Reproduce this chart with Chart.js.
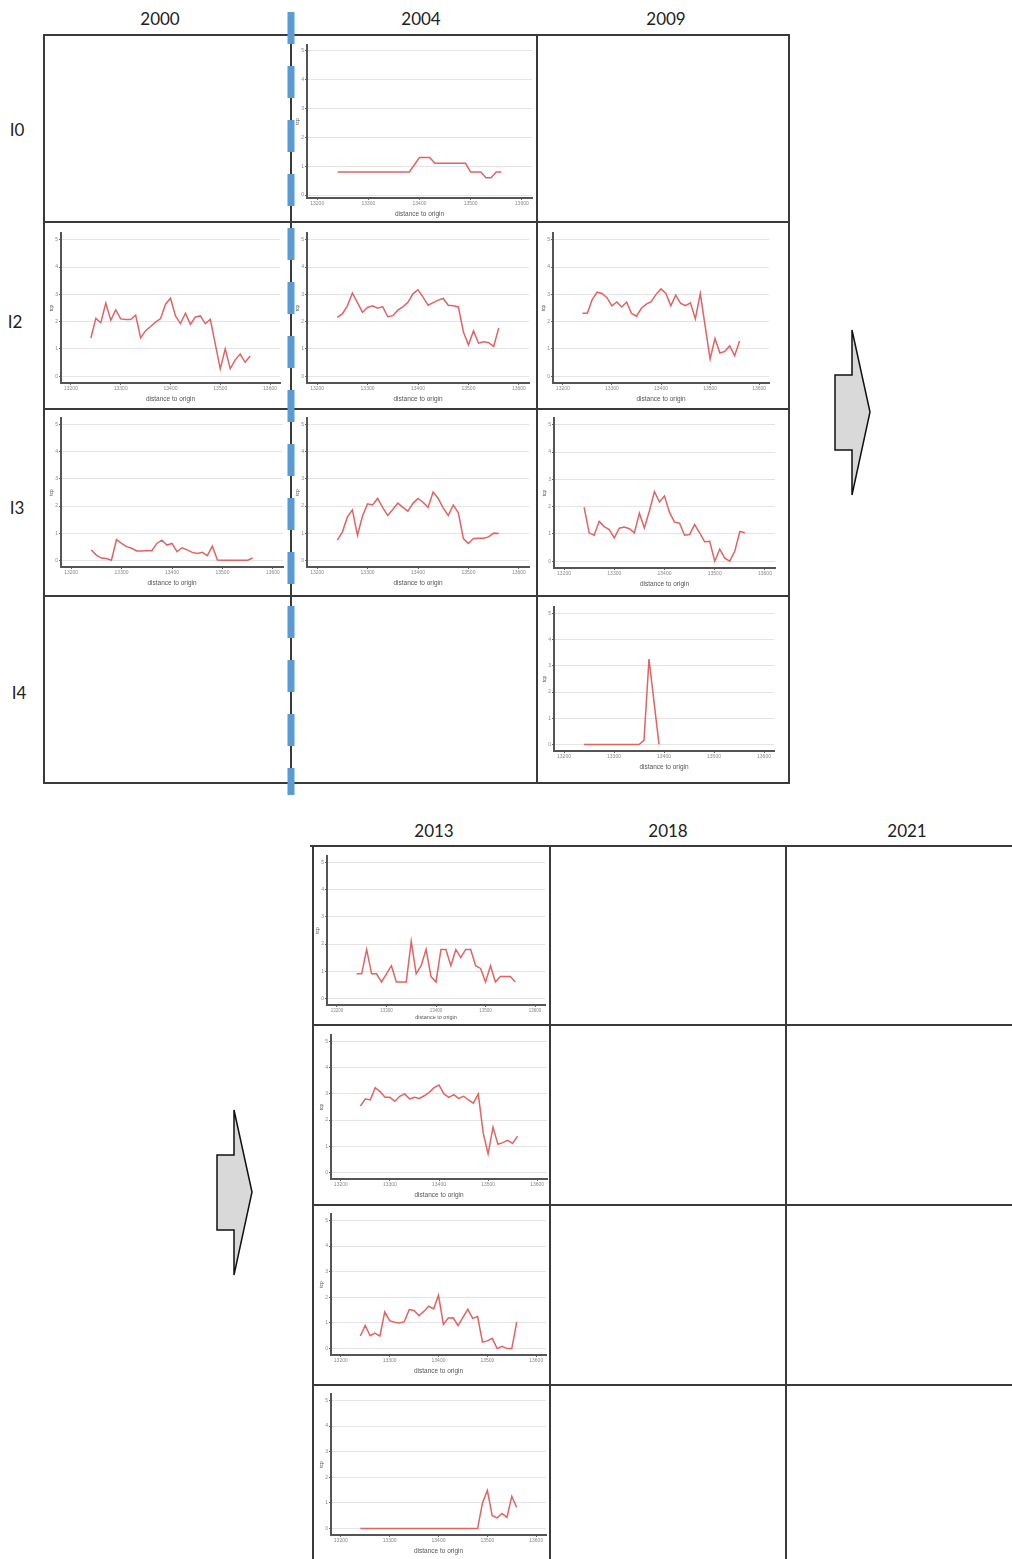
<!DOCTYPE html>
<html>
<head>
<meta charset="utf-8">
<script src="https://cdn.jsdelivr.net/npm/chart.js@4.4.1/dist/chart.umd.min.js"></script>
<style>
  html, body { margin: 0; padding: 0; background: #fff; }
  #page { position: relative; width: 1012px; height: 1559px; overflow: hidden; background: #fff;
          font-family: Lato, "Open Sans", "Liberation Sans", sans-serif; }
  .lbl { position: absolute; font-size: 17px; color: #222; transform: translate(-50%, -50%); white-space: nowrap; }
  canvas.mini { position: absolute; filter: blur(0.35px); }
  svg.frame { position: absolute; left: 0; top: 0; pointer-events: none; }
</style>
</head>
<body>
<div id="page"></div>
<script>
// ---- axis values shared by every small panel ----
const distance = [13240, 13250, 13260, 13270, 13280, 13290, 13300, 13310, 13320, 13330, 13340,
                  13350, 13360, 13370, 13380, 13390, 13400, 13410, 13420, 13430, 13440, 13450,
                  13460, 13470, 13480, 13490, 13500, 13510, 13520, 13530, 13540, 13550, 13560];
const xTicks = [13200, 13300, 13400, 13500, 13600];
const yTicks = [0, 1, 2, 3, 4, 5];

// ---- table headings ----
const yearsTop = ['2000', '2004', '2009'];
const yearsBottom = ['2013', '2018', '2021'];
const rowNames = ['I0', 'I2', 'I3', 'I4'];

// ---- series (one per filled cell), aligned with `distance` ----
const I0_2004 = [0.8, 0.8, 0.8, 0.8, 0.8, 0.8, 0.8, 0.8, 0.8, 0.8, 0.8, 0.8, 0.8, 0.8, 0.8, null,
                 1.3, 1.3, 1.3, 1.1, 1.1, 1.1, 1.1, 1.1, 1.1, 1.1, 0.8, 0.8, 0.8, 0.6, 0.6, 0.8, 0.8];
const I2_2000 = [1.40, 2.12, 1.96, 2.68, 2.05, 2.43, 2.10, 2.08, 2.08, 2.24, 1.40, 1.67, 1.82, 1.98, 2.11,
                 2.64, 2.86, 2.21, 1.93, 2.31, 1.90, 2.17, 2.21, 1.93, 2.08, null, 0.27, 1.00, 0.27, 0.60,
                 0.81, 0.51, 0.74];
const I2_2004 = [2.16, 2.28, 2.58, 3.05, 2.70, 2.34, 2.52, 2.58, 2.49, 2.55, 2.18, 2.22, 2.42, 2.54, 2.71,
                 3.02, 3.17, 2.90, 2.60, 2.70, 2.79, 2.85, 2.60, 2.58, 2.54, 1.62, 1.15, 1.66, 1.21, 1.26,
                 1.23, 1.09, 1.77];
const I2_2009 = [2.31, 2.31, 2.82, 3.08, 3.03, 2.88, 2.58, 2.72, 2.54, 2.72, 2.30, 2.20, 2.49, 2.64, 2.73,
                 3.00, 3.20, 3.03, 2.58, 2.97, 2.67, 2.59, 2.69, 2.10, 3.03, null, 0.63, 1.38, 0.85, 0.91,
                 1.11, 0.75, 1.29];
const I3_2000 = [0.38, 0.19, 0.08, 0.06, 0.00, 0.76, 0.62, 0.50, 0.44, 0.34, 0.34, 0.36, 0.35, 0.62, 0.74,
                 0.56, 0.62, 0.32, 0.46, 0.38, 0.29, 0.25, 0.29, 0.17, 0.52, 0.01, 0, 0, 0, 0,
                 0, 0, 0.08];
const I3_2004 = [0.74, 1.04, 1.59, 1.86, 0.92, 1.63, 2.08, 2.04, 2.28, 1.95, 1.65, 1.87, 2.11, 1.95, 1.81,
                 2.10, 2.28, 2.14, 1.95, 2.52, 2.28, 1.92, 1.65, 2.04, 1.75, 0.80, 0.62, 0.80, 0.81, 0.81,
                 0.86, 1.00, 0.99];
const I3_2009 = [1.97, 1.04, 0.95, 1.46, 1.27, 1.16, 0.85, 1.21, 1.25, 1.19, 1.04, 1.76, 1.22, 1.85, 2.55,
                 2.17, 2.39, 1.79, 1.43, 1.39, 0.95, 0.98, 1.34, 1.04, 0.71, 0.73, 0.00, 0.44, 0.11, 0.00,
                 0.37, 1.09, 1.04];
const I4_2009 = [0, 0, 0, 0, 0, 0, 0, 0, 0, 0, 0, 0, 0.16, 3.26, null, 0,
                 null, null, null, null, null, null, null, null, null, null, null, null, null, null,
                 null, null, null];
const I0_2013 = [0.9, 0.9, 1.8, 0.9, 0.9, 0.6, 0.9, 1.2, 0.6, 0.6, 0.6, 2.1, 0.9, 1.2, 1.8,
                 0.8, 0.6, 1.8, 1.8, 1.2, 1.8, 1.5, 1.8, 1.8, 1.2, 1.1, 0.6, 1.2, 0.6, 0.8,
                 0.8, 0.8, 0.6];
const I2_2013 = [2.54, 2.81, 2.77, 3.24, 3.09, 2.87, 2.87, 2.72, 2.91, 3.00, 2.81, 2.87, 2.83, 2.93, 3.06,
                 3.24, 3.34, 3.00, 2.87, 2.97, 2.83, 2.91, 2.77, 2.65, 3.00, 1.51, 0.71, 1.73, 1.08, 1.14,
                 1.23, 1.11, 1.39];
const I3_2013 = [0.49, 0.90, 0.50, 0.60, 0.49, 1.43, 1.09, 1.03, 1.00, 1.05, 1.52, 1.49, 1.28, 1.45, 1.65,
                 1.55, 2.08, 0.94, 1.19, 1.20, 0.90, 1.22, 1.53, 1.18, 1.25, 0.25, 0.30, 0.40, 0.00, 0.09,
                 0.00, 0.00, 1.03];
const I4_2013 = [0, 0, 0, 0, 0, 0, 0, 0, 0, 0, 0, 0, 0, 0, 0, 0, 0, 0, 0, 0, 0, 0, 0, 0, 0,
                 1.00, 1.49, 0.50, 0.42, 0.59, 0.44, 1.26, 0.82];

// ---- where each panel's plot area sits: [left, top, right, bottom] ----
const panels = [
  { data: I0_2004, box: [307, 41, 532, 198], yMin: -0.1, yMax: 5.2 },
  { data: I2_2000, box: [61, 229, 280, 383] },
  { data: I2_2004, box: [307, 229, 529, 383] },
  { data: I2_2009, box: [553, 229, 769, 383] },
  { data: I3_2000, box: [61, 414, 283, 567] },
  { data: I3_2004, box: [307, 414, 529, 567] },
  { data: I3_2009, box: [554, 414, 775, 568] },
  { data: I4_2009, box: [554, 603, 774, 751] },
  { data: I0_2013, box: [327, 852, 545, 1005], xh: 17, small: true },
  { data: I2_2013, box: [331, 1031, 547, 1179] },
  { data: I3_2013, box: [331, 1210, 546, 1355] },
  { data: I4_2013, box: [331, 1390, 546, 1535] }
];

const page = document.getElementById('page');

function addLabel(text, x, y) {
  const d = document.createElement('div');
  d.className = 'lbl';
  d.textContent = text;
  d.style.left = x + 'px';
  d.style.top = y + 'px';
  page.appendChild(d);
}

[160, 421, 666].forEach((x, i) => addLabel(yearsTop[i], x, 18));
[434, 668, 907].forEach((x, i) => addLabel(yearsBottom[i], x, 830));
[[17, 129], [15, 321], [17, 507], [19, 692]].forEach((p, i) => addLabel(rowNames[i], p[0], p[1]));

const YW = 12, XH = 22, PR = 4;

function makePanel(p) {
  const [l, t, r, b] = p.box;
  const xh = p.xh || XH;
  const c = document.createElement('canvas');
  c.className = 'mini';
  const w = (r - l) + YW + PR, h = (b - t) + xh;
  c.width = w; c.height = h;
  c.style.left = (l - YW) + 'px';
  c.style.top = t + 'px';
  c.style.width = w + 'px';
  c.style.height = h + 'px';
  page.appendChild(c);

  const pts = [];
  distance.forEach((d, i) => { if (p.data[i] !== null) pts.push({ x: d, y: p.data[i] }); });

  new Chart(c, {
    type: 'line',
    data: { datasets: [{ data: pts, borderColor: '#e06464', borderWidth: 1.5, pointRadius: 0,
                         tension: 0, fill: false }] },
    options: {
      responsive: false, animation: false, devicePixelRatio: 1,
      layout: { padding: { left: 0, top: 0, right: PR, bottom: 0 } },
      plugins: { legend: { display: false }, tooltip: { enabled: false } },
      scales: {
        x: {
          type: 'linear', min: 13180, max: 13620,
          afterBuildTicks: s => { s.ticks = xTicks.map(v => ({ value: v })); },
          afterFit: s => { s.height = xh; },
          ticks: { font: { size: p.small ? 4.5 : 5 }, color: '#888', padding: 1, maxRotation: 0,
                   autoSkip: false, callback: v => String(v) },
          grid: { drawOnChartArea: false, tickLength: 2, tickColor: '#666' },
          border: { color: '#555', width: 2 },
          title: { display: true, text: 'distance to origin', font: { size: p.small ? 5.5 : 6.5 },
                   color: '#555', padding: { top: 0, bottom: p.small ? 1 : 2 } }
        },
        y: {
          min: p.yMin !== undefined ? p.yMin : -0.25,
          max: p.yMax !== undefined ? p.yMax : 5.25,
          afterBuildTicks: s => { s.ticks = yTicks.map(v => ({ value: v })); },
          afterFit: s => { s.width = YW; },
          ticks: { font: { size: 5 }, color: '#888', padding: 1 },
          grid: { color: '#e4e4e4', lineWidth: 1, tickLength: 2, tickColor: '#666' },
          border: { color: '#555', width: 2 },
          title: { display: true, text: 'tcp', font: { size: 5 }, color: '#555', padding: 0 }
        }
      }
    }
  });
}

panels.forEach(makePanel);

// ---- table rules, divider and arrows ----
const NS = 'http://www.w3.org/2000/svg';
const svg = document.createElementNS(NS, 'svg');
svg.setAttribute('class', 'frame');
svg.setAttribute('width', 1012);
svg.setAttribute('height', 1559);
page.appendChild(svg);

function line(x1, y1, x2, y2, color, width, dash) {
  const e = document.createElementNS(NS, 'line');
  e.setAttribute('x1', x1); e.setAttribute('y1', y1);
  e.setAttribute('x2', x2); e.setAttribute('y2', y2);
  e.setAttribute('stroke', color); e.setAttribute('stroke-width', width);
  if (dash) e.setAttribute('stroke-dasharray', dash);
  svg.appendChild(e);
}
function poly(points) {
  const e = document.createElementNS(NS, 'polygon');
  e.setAttribute('points', points);
  e.setAttribute('fill', '#d9d9d9');
  e.setAttribute('stroke', '#111');
  e.setAttribute('stroke-width', 1.5);
  e.setAttribute('stroke-linejoin', 'miter');
  svg.appendChild(e);
}

const rule = '#3a3a3a';
// upper table
[35, 222, 409, 596, 783].forEach(y => line(43, y, 790, y, rule, 2));
[44, 291, 537, 789].forEach(x => line(x, 35, x, 783, rule, 2));
// lower table
line(310, 846, 1012, 846, rule, 2);
[1025, 1205, 1385].forEach(y => line(313, y, 1012, y, rule, 2));
[313, 550, 786].forEach(x => line(x, 846, x, 1559, rule, 2));
// dashed divider
line(291, 12, 291, 795, '#5b9bd5', 7, '32 22');
// arrows
poly('835,375 852,375 852,330 870,412 852,495 852,450 835,450');
poly('217,1155 234,1155 234,1110 252,1192 234,1275 234,1230 217,1230');
</script>
</body>
</html>
